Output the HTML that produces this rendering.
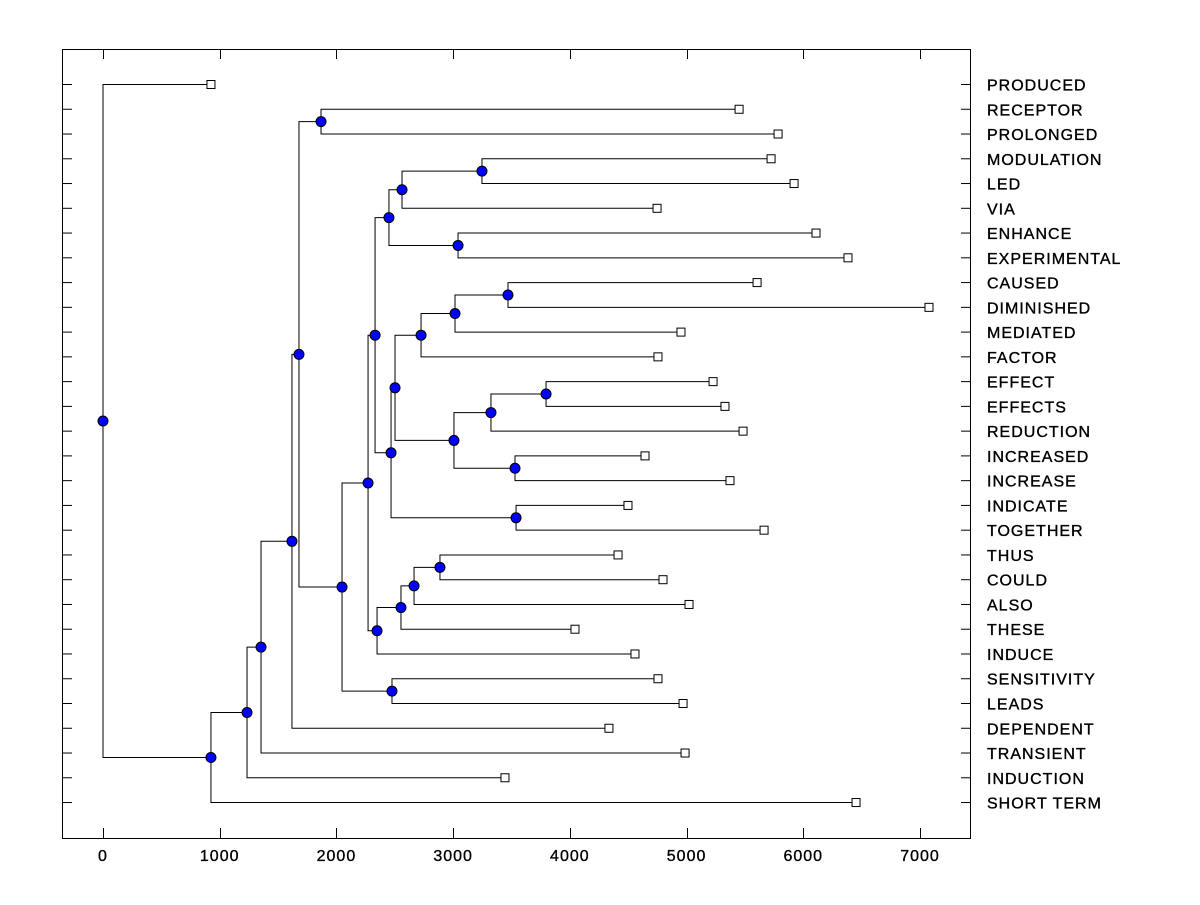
<!DOCTYPE html>
<html><head><meta charset="utf-8"><style>
body{margin:0;background:#fff;}
svg text{font-family:"Liberation Sans",Arial,sans-serif;font-size:16px;letter-spacing:1px;fill:#000;stroke:#000;stroke-width:0.35px;}
</style></head><body>
<svg id="chart" width="1200" height="900" xmlns="http://www.w3.org/2000/svg">
<rect x="62.5" y="49.5" width="908" height="789" fill="none" stroke="#000" stroke-width="1"/>
<g id="g"></g>
</svg>
<script>
const leafNames = ["PRODUCED","RECEPTOR","PROLONGED","MODULATION","LED","VIA","ENHANCE","EXPERIMENTAL","CAUSED","DIMINISHED","MEDIATED","FACTOR","EFFECT","EFFECTS","REDUCTION","INCREASED","INCREASE","INDICATE","TOGETHER","THUS","COULD","ALSO","THESE","INDUCE","SENSITIVITY","LEADS","DEPENDENT","TRANSIENT","INDUCTION","SHORT TERM"];
const leafValues = [925,5450,5784,5724,5921,4747,6109,6383,5604,7077,4952,4755,5227,5329,5484,4644,5372,4498,5664,4413,4798,5021,4044,4558,4755,4970,4335,4987,3444,6452];
// merges: [childA, childB, height]; leaves referenced by index, nodes as "n<k>"
const merges = [
 [1,2,1868],        // n0
 [3,4,3247],        // n1
 ["n1",5,2562],     // n2
 [6,7,3042],        // n3
 ["n2","n3",2450],  // n4
 [8,9,3470],        // n5
 ["n5",10,3016],    // n6
 ["n6",11,2725],    // n7
 [12,13,3796],      // n8
 ["n8",14,3324],    // n9
 [15,16,3530],      // n10
 ["n9","n10",3007], // n11
 ["n7","n11",2502], // n12
 [17,18,3539],      // n13
 ["n12","n13",2468],// n14
 ["n4","n14",2331], // n15
 [19,20,2887],      // n16
 ["n16",21,2665],   // n17
 ["n17",22,2553],   // n18
 ["n18",23,2348],   // n19
 [24,25,2476],      // n20
 ["n15","n19",2271],// n21
 ["n21","n20",2048],// n22
 ["n0","n22",1679], // n23
 ["n23",26,1619],   // n24
 ["n24",27,1354],   // n25
 ["n25",28,1234],   // n26
 ["n26",29,925],    // n27
 [0,"n27",0]        // n28
];
const xTicks = [0,1000,2000,3000,4000,5000,6000,7000];

const X = v => 103 + v*0.116714;
const rowY = i => 84.5 + i*24.76;
const g = document.getElementById('g');
const NS = "http://www.w3.org/2000/svg";
function mk(tag, attrs){const e=document.createElementNS(NS,tag);for(const k in attrs)e.setAttribute(k,attrs[k]);g.appendChild(e);return e;}

leafNames.forEach((n,i)=>{
  const y=rowY(i);
  let t=mk('line',{x1:62,y1:y,x2:72,y2:y,stroke:'#000'});
  
  
  t=mk('line',{x1:961,y1:y,x2:970,y2:y,stroke:'#000'});
  
  
  const tx=mk('text',{x:987,y:y+6});
  tx.textContent=n;
  
  
});
xTicks.forEach(v=>{
  const x=Math.round(X(v))+0.5;
  let t=mk('line',{x1:x,y1:838,x2:x,y2:828,stroke:'#000'});
  
  
  t=mk('line',{x1:x,y1:50,x2:x,y2:59,stroke:'#000'});
  
  
  const tx=mk('text',{x:X(v),y:861,'text-anchor':'middle'});
  tx.textContent=v;
  
  
});

const pos = {};
leafNames.forEach((n,i)=>{pos[i]={x:X(leafValues[i]),y:rowY(i)};});
merges.forEach((m,k)=>{
  const a=pos[m[0]], b=pos[m[1]], x=X(m[2]), y=(a.y+b.y)/2;
  pos['n'+k]={x,y};
  let l=mk('polyline',{points:`${a.x},${a.y} ${x},${a.y} ${x},${b.y} ${b.x},${b.y}`,fill:'none',stroke:'#000','stroke-width':1});
  
  
});
leafNames.forEach((n,i)=>{
  const p=pos[i];
  const r=mk('rect',{x:p.x-4,y:p.y-4,width:8,height:8,fill:'#fff',stroke:'#000'});
  
  
});
merges.forEach((m,k)=>{
  const p=pos['n'+k];
  const c=mk('circle',{cx:p.x,cy:p.y,r:5,fill:'#0000ff',stroke:'#000'});
  
  
});
</script>
</body></html>
